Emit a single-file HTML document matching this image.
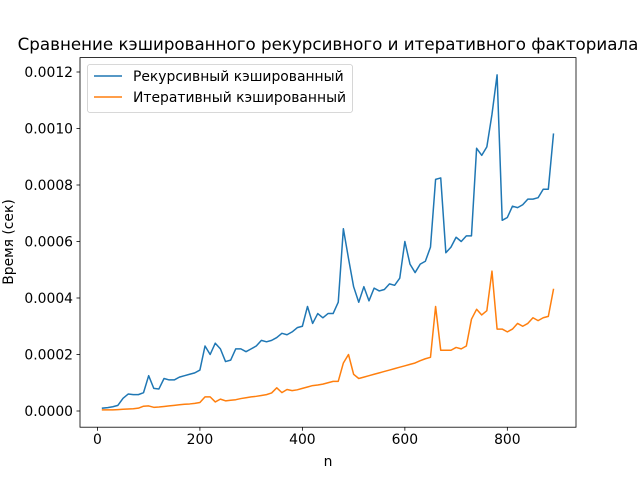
<!DOCTYPE html>
<html><head><meta charset="utf-8"><style>body{margin:0;background:#fff;overflow:hidden}svg{display:block;font-family:"DejaVu Sans","Liberation Sans",sans-serif}</style></head>
<body>
<svg id="chart" width="640" height="480" viewBox="0 0 640 480">
<rect width="640" height="480" fill="#fff"/>
<g id="plot"></g>
</svg>
<script>
const nValues = [];
for (let n = 10; n <= 890; n += 10) nValues.push(n);
const recursiveTimes = [0.1,0.12,0.15,0.2,0.45,0.6,0.58,0.58,0.65,1.25,0.8,0.78,1.15,1.1,1.1,1.2,1.25,1.3,1.35,1.45,2.3,2.0,2.4,2.2,1.75,1.8,2.2,2.2,2.1,2.2,2.3,2.5,2.45,2.5,2.6,2.75,2.7,2.8,2.95,3.0,3.7,3.1,3.45,3.3,3.45,3.45,3.85,6.45,5.4,4.4,3.85,4.4,3.9,4.35,4.25,4.3,4.5,4.45,4.7,6.0,5.2,4.9,5.2,5.3,5.8,8.2,8.25,5.6,5.8,6.15,6.0,6.2,6.2,9.3,9.05,9.35,10.5,11.9,6.75,6.85,7.25,7.2,7.3,7.5,7.5,7.55,7.85,7.85,9.8];
const iterativeTimes = [0.04,0.04,0.04,0.05,0.06,0.07,0.08,0.1,0.17,0.18,0.13,0.14,0.16,0.18,0.2,0.22,0.24,0.25,0.27,0.3,0.5,0.5,0.32,0.42,0.36,0.38,0.4,0.44,0.47,0.5,0.52,0.55,0.58,0.64,0.82,0.65,0.76,0.72,0.75,0.8,0.85,0.9,0.92,0.95,1.0,1.05,1.05,1.7,2.0,1.3,1.15,1.2,1.25,1.3,1.35,1.4,1.45,1.5,1.55,1.6,1.65,1.7,1.78,1.85,1.9,3.7,2.15,2.15,2.15,2.25,2.2,2.3,3.25,3.6,3.4,3.55,4.95,2.9,2.9,2.8,2.9,3.1,3.0,3.1,3.3,3.2,3.3,3.35,4.3];
const xTicks = [0,200,400,600,800];
const yTicks = [0,2,4,6,8,10,12];
const yTickLabels = ["0.0000","0.0002","0.0004","0.0006","0.0008","0.0010","0.0012"];

const NS = "http://www.w3.org/2000/svg";
const L=80,R=576,T=57.6,B=427.2;
const xMin=-34,xMax=934;
const xs = v => L + (v - xMin) / (xMax - xMin) * (R - L);
const ys = v => 411 - v / 2 * 56.5;   // v in 1e-4 units
const g = document.getElementById('plot');
function mk(tag, attrs, parent) {
  const e = document.createElementNS(NS, tag);
  for (const k in attrs) e.setAttribute(k, attrs[k]);
  (parent || g).appendChild(e);
  return e;
}
function line(data, color, name) {
  const d = data.map((v,i)=>(i?'L':'M')+xs(nValues[i]).toFixed(2)+','+ys(v).toFixed(2)).join('');
  const p = mk('path',{d:d,fill:'none',stroke:color,'stroke-width':1.5,'stroke-linejoin':'round','stroke-linecap':'square'});
  
  
}
line(recursiveTimes,'#1f77b4','recursive-line');
line(iterativeTimes,'#ff7f0e','iterative-line');

const frame = mk('rect',{x:L,y:T,width:R-L,height:B-T,fill:'none',stroke:'#000','stroke-width':0.8});



xTicks.forEach(t=>{
  const x = xs(t);
  const tk = mk('line',{x1:x,x2:x,y1:B,y2:B+3.5,stroke:'#000','stroke-width':0.8});
  
  
  const tx = mk('text',{x:x,y:B+17,'text-anchor':'middle','font-size':13.9});
  tx.textContent = t;
  
  
});
yTicks.forEach((t,i)=>{
  const y = ys(t);
  const tk = mk('line',{x1:L-3.5,x2:L,y1:y,y2:y,stroke:'#000','stroke-width':0.8});
  
  
  const tx = mk('text',{x:L-7,y:y+5,'text-anchor':'end','font-size':13.9});
  tx.textContent = yTickLabels[i];
  
  
});
const xl = mk('text',{x:(L+R)/2,y:466,'text-anchor':'middle','font-size':13.9});
xl.textContent='n';


const yl = mk('text',{x:0,y:0,'text-anchor':'middle','font-size':13.9,transform:'translate(13,242) rotate(-90)'});
yl.textContent='Время (сек)';


const tt = mk('text',{x:(L+R)/2,y:50,'text-anchor':'middle','font-size':16.7});
tt.textContent='Сравнение кэшированного рекурсивного и итеративного факториала';



const lg = mk('g',{});


mk('rect',{x:87.5,y:64.5,width:265,height:48,rx:2.5,fill:'#fff','fill-opacity':0.8,stroke:'#ccc','stroke-width':0.8},lg);
[['Рекурсивный кэшированный','#1f77b4',76],['Итеративный кэшированный','#ff7f0e',97]].forEach(([lab,c,y])=>{
  const e = mk('g',{},lg);
  
  
  mk('line',{x1:94,x2:122,y1:y,y2:y,stroke:c,'stroke-width':1.5},e);
  const t = mk('text',{x:133,y:y+5,'font-size':13.9},e);
  t.textContent = lab;
});
</script>
</body></html>
